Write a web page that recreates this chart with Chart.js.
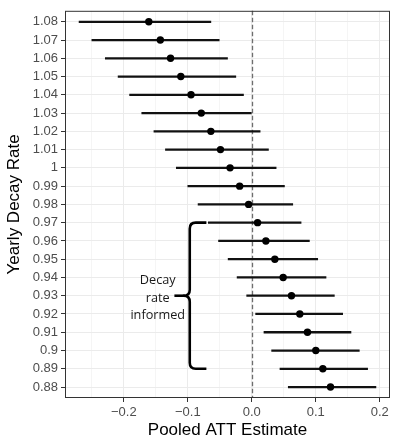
<!DOCTYPE html>
<html>
<head>
<meta charset="utf-8">
<script src="https://cdn.jsdelivr.net/npm/chart.js@4.4.1/dist/chart.umd.min.js"></script>
<style>
  html, body { margin: 0; padding: 0; background: #fff; }
  #wrap { width: 394px; height: 439px; }
</style>
</head>
<body>
<div id="wrap"><canvas id="attChart" width="394" height="439"></canvas></div>
<script>
// Yearly decay rates, top row first
const decayRates = [1.08, 1.07, 1.06, 1.05, 1.04, 1.03, 1.02, 1.01, 1.00, 0.99, 0.98,
                    0.97, 0.96, 0.95, 0.94, 0.93, 0.92, 0.91, 0.90, 0.89, 0.88];
const rateLabels = ['1.08', '1.07', '1.06', '1.05', '1.04', '1.03', '1.02', '1.01', '1', '0.99', '0.98',
                    '0.97', '0.96', '0.95', '0.94', '0.93', '0.92', '0.91', '0.9', '0.89', '0.88'];

// Pooled ATT point estimates and interval bounds
const attEstimate = [-0.161, -0.143, -0.127, -0.111, -0.095, -0.079, -0.064, -0.049, -0.034, -0.019, -0.005,
                     0.009, 0.022, 0.036, 0.049, 0.062, 0.075, 0.087, 0.100, 0.111, 0.123];
const ciLower = [-0.270, -0.250, -0.229, -0.209, -0.191, -0.172, -0.153, -0.135, -0.118, -0.100, -0.084,
                 -0.068, -0.052, -0.037, -0.023, -0.008, 0.006, 0.019, 0.031, 0.044, 0.057];
const ciUpper = [-0.064, -0.051, -0.038, -0.025, -0.013, 0.000, 0.013, 0.026, 0.038, 0.051, 0.064,
                 0.077, 0.090, 0.103, 0.116, 0.129, 0.142, 0.155, 0.168, 0.181, 0.194];

// x axis breaks; empty labels are the minor grid lines
const xTickValues = [-0.25, -0.2, -0.15, -0.1, -0.05, 0, 0.05, 0.1, 0.15, 0.2];
const xTickLabels = ['', '\u22120.2', '', '\u22120.1', '', '0.0', '', '0.1', '', '0.2'];

// Bracket note over the informed rows
const braceRows = [0.97, 0.93, 0.89];
const braceText = ['Decay', 'rate', 'informed'];

const AXIS_FONT = 'Liberation Sans, Arial, Helvetica, sans-serif';

const panelDecor = {
  id: 'panelDecor',
  beforeDatasetsDraw(chart) {
    const { ctx, chartArea, scales } = chart;
    const x0 = Math.round(scales.x.getPixelForValue(0)) + 0.5;
    ctx.save();
    ctx.strokeStyle = '#6e6e6e';
    ctx.lineWidth = 1.3;
    ctx.setLineDash([4.5, 2.5]);
    ctx.beginPath();
    ctx.moveTo(x0, chartArea.top);
    ctx.lineTo(x0, chartArea.bottom);
    ctx.stroke();
    ctx.restore();
  },
  afterDraw(chart) {
    const { ctx, chartArea, scales } = chart;
    const xs = scales.x, ys = scales.y;
    ctx.save();

    // panel border
    ctx.strokeStyle = '#333333';
    ctx.lineWidth = 1;
    ctx.strokeRect(chartArea.left + 0.5, chartArea.top + 0.5,
                   chartArea.right - chartArea.left - 1, chartArea.bottom - chartArea.top - 1);

    // curly brace
    const bx = xs.getPixelForValue(-0.097);
    const hookEnd = xs.getPixelForValue(-0.071);
    const nubEnd = xs.getPixelForValue(-0.121);
    const top = ys.getPixelForValue(braceRows[0]);
    const mid = ys.getPixelForValue(braceRows[1]);
    const bot = ys.getPixelForValue(braceRows[2]);
    const r = 6;
    ctx.strokeStyle = '#000';
    ctx.lineWidth = 2.6;
    ctx.lineCap = 'butt';
    ctx.lineJoin = 'round';
    ctx.beginPath();
    ctx.moveTo(hookEnd, top);
    ctx.lineTo(bx + r, top);
    ctx.quadraticCurveTo(bx, top, bx, top + r);
    ctx.lineTo(bx, mid - r);
    ctx.quadraticCurveTo(bx, mid, bx - r, mid);
    ctx.quadraticCurveTo(bx, mid, bx, mid + r);
    ctx.lineTo(bx, bot - r);
    ctx.quadraticCurveTo(bx, bot, bx + r, bot);
    ctx.lineTo(hookEnd, bot);
    ctx.stroke();
    ctx.beginPath();
    ctx.moveTo(nubEnd, mid);
    ctx.lineTo(bx - r + 1, mid);
    ctx.stroke();

    // brace label
    const tx = xs.getPixelForValue(-0.147);
    ctx.fillStyle = '#1a1a1a';
    ctx.font = '12.7px "Open Sans", sans-serif';
    ctx.textAlign = 'center';
    ctx.textBaseline = 'middle';
    braceText.forEach((line, i) => {
      ctx.fillText(line, tx, mid - 15 + i * 17.5);
    });
    ctx.restore();
  }
};

const ctx = document.getElementById('attChart').getContext('2d');

new Chart(ctx, {
  type: 'scatter',
  data: {
    datasets: [
      {
        type: 'bar',
        indexAxis: 'y',
        data: decayRates.map((rate, i) => ({ x: [ciLower[i], ciUpper[i]], y: rate })),
        backgroundColor: '#111111',
        borderWidth: 0,
        barThickness: 1.6,
        order: 2,
      },
      {
        type: 'scatter',
        data: decayRates.map((rate, i) => ({ x: attEstimate[i], y: rate })),
        backgroundColor: '#000000',
        borderColor: '#000000',
        pointRadius: 3.7,
        borderWidth: 0,
        order: 1,
      },
    ],
  },
  options: {
    responsive: false,
    animation: false,
    devicePixelRatio: 1,
    layout: { padding: { top: 7, right: 3, left: 0, bottom: 0 } },
    plugins: {
      legend: { display: false },
      tooltip: { enabled: false },
    },
    scales: {
      x: {
        type: 'linear',
        min: -0.292,
        max: 0.216,
        afterBuildTicks: axis => { axis.ticks = xTickValues.map(v => ({ value: v })); },
        afterFit: axis => { axis.height = 41; },
        border: { display: false },
        grid: {
          color: '#ebebeb',
          lineWidth: c => (xTickLabels[c.index] ? 1 : 0.5),
          tickColor: c => (xTickLabels[c.index] ? '#333333' : 'rgba(0,0,0,0)'),
          tickLength: 4,
          tickWidth: 1,
        },
        ticks: {
          callback: (v, i) => xTickLabels[i],
          color: '#4d4d4d',
          font: { family: AXIS_FONT, size: 13 },
          padding: 3,
          maxRotation: 0,
          autoSkip: false,
        },
        title: {
          display: true,
          text: 'Pooled ATT Estimate',
          color: '#000000',
          font: { family: AXIS_FONT, size: 17, lineHeight: 1 },
          padding: { top: 0, bottom: 0 },
        },
      },
      y: {
        type: 'linear',
        min: 0.874,
        max: 1.086,
        offset: false,
        afterBuildTicks: axis => { axis.ticks = decayRates.map(v => ({ value: v })); },
        afterFit: axis => { axis.width = 65; },
        border: { display: false },
        grid: {
          offset: false,
          color: '#ebebeb',
          lineWidth: 1,
          tickColor: '#333333',
          tickLength: 4,
          tickWidth: 1,
        },
        ticks: {
          callback: (v, i) => rateLabels[i],
          color: '#4d4d4d',
          font: { family: AXIS_FONT, size: 13 },
          padding: 3,
          autoSkip: false,
        },
        title: {
          display: true,
          text: 'Yearly Decay Rate',
          color: '#000000',
          font: { family: AXIS_FONT, size: 17, lineHeight: 1 },
          padding: { top: 6, bottom: 0 },
        },
      },
    },
  },
  plugins: [panelDecor],
});
</script>
</body>
</html>
